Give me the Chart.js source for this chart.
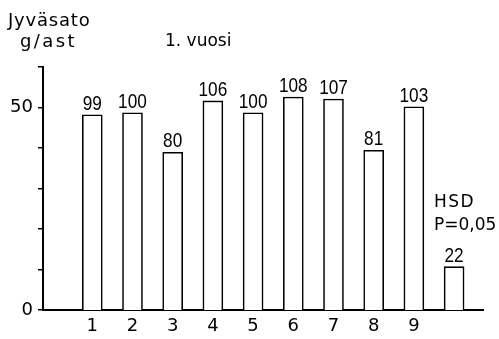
<!DOCTYPE html>
<html>
<head>
<meta charset="utf-8">
<script src="https://cdn.jsdelivr.net/npm/chart.js@4/dist/chart.umd.min.js"></script>
<style>
  html, body { margin: 0; padding: 0; background: #fff; }
  #wrap { width: 499px; height: 339px; }
</style>
</head>
<body>
<div id="wrap"><canvas id="c" width="499" height="339"></canvas></div>
<script>
// Cultivars 1–9 plus the HSD (P=0,05) bar
const cultivars = ['1', '2', '3', '4', '5', '6', '7', '8', '9'];
// Relative grain yield (cultivar 2/5 level = 100)
const relativeYield = [99, 100, 80, 106, 100, 108, 107, 81, 103];
// HSD at P=0,05 in the same relative units
const hsdRelative = 22;
// Grain yield (g/ast) corresponding to relative value 100
const controlYield = 48.7;
// Y axis ticks (g/ast)
const yTicks = [0, 10, 20, 30, 40, 50, 60];
const yLabelled = [0, 50];

const barValues = relativeYield.concat([hsdRelative]);
const barPoints = barValues.map((v, i) => ({ x: i + 1, y: v }));

const axisFont = { family: 'DejaVu Sans', size: 18 };
const valueFont = '21px "Liberation Sans", Arial, sans-serif';

const textPlugin = {
  id: 'annotTexts',
  afterDatasetsDraw(chart) {
    const ctx = chart.ctx;
    const meta = chart.getDatasetMeta(0);
    ctx.save();
    ctx.fillStyle = '#000';
    ctx.textBaseline = 'alphabetic';
    // value labels in a narrow face
    ctx.font = valueFont;
    ctx.textAlign = 'center';
    const squeeze = 0.82;
    meta.data.forEach((el, i) => {
      ctx.save();
      ctx.translate(el.x, el.y - 5);
      ctx.scale(squeeze, 1);
      ctx.fillText(String(barValues[i]), 0, 0);
      ctx.restore();
    });
    ctx.textAlign = 'left';
    const put = (t, x, y, size, sp) => {
      ctx.font = size + 'px "DejaVu Sans"';
      ctx.letterSpacing = (sp || 0) + 'px';
      ctx.fillText(t, x, y);
    };
    put('Jyväsato', 8, 26, 18, 0.8);
    put('g/ast', 20, 46.5, 18, 2.4);
    put('1. vuosi', 165, 46, 17, 0);
    put('HSD', 434, 207, 17, 1.5);
    put('P=0,05', 434, 230, 17, 0);
    ctx.restore();
  }
};

new Chart(document.getElementById('c'), {
  type: 'bar',
  data: {
    datasets: [{
      data: barPoints,
      xAxisID: 'x',
      yAxisID: 'rel',
      backgroundColor: '#fff',
      borderColor: '#000',
      borderWidth: 1.6,
      borderSkipped: 'bottom',
      barThickness: 20
    }]
  },
  options: {
    responsive: false,
    devicePixelRatio: 1,
    animation: false,
    events: [],
    layout: { padding: { top: 67, right: 16, left: 0, bottom: 0 } },
    plugins: { legend: { display: false }, tooltip: { enabled: false } },
    scales: {
      x: {
        type: 'linear',
        axis: 'x',
        position: 'bottom',
        offset: false,
        min: -0.226,
        max: 10.719,
        grid: { display: false, drawTicks: false, offset: false },
        border: { display: true, color: '#000', width: 2 },
        afterBuildTicks(scale) {
          scale.ticks = cultivars.map((c, i) => ({ value: i + 1 }));
        },
        afterFit(scale) { scale.height = 29; },
        ticks: {
          autoSkip: false,
          maxRotation: 0,
          padding: 6,
          color: '#000',
          font: axisFont,
          callback: (v) => cultivars[v - 1] || ''
        }
      },
      y: {
        type: 'linear',
        axis: 'y',
        position: 'left',
        min: 0,
        max: 60,
        afterBuildTicks(scale) {
          scale.ticks = yTicks.map(v => ({ value: v }));
        },
        afterFit(scale) { scale.width = 43; },
        grid: { drawOnChartArea: false, drawTicks: true, tickLength: 5, color: '#000', lineWidth: 1.5 },
        border: { display: true, color: '#000', width: 2 },
        ticks: {
          padding: 5,
          color: '#000',
          font: axisFont,
          callback: (v) => yLabelled.includes(v) ? String(v) : ''
        }
      },
      rel: {
        type: 'linear',
        axis: 'y',
        position: 'right',
        display: false,
        min: 0,
        max: 60 * 100 / controlYield
      }
    }
  },
  plugins: [textPlugin]
});
</script>
</body>
</html>
